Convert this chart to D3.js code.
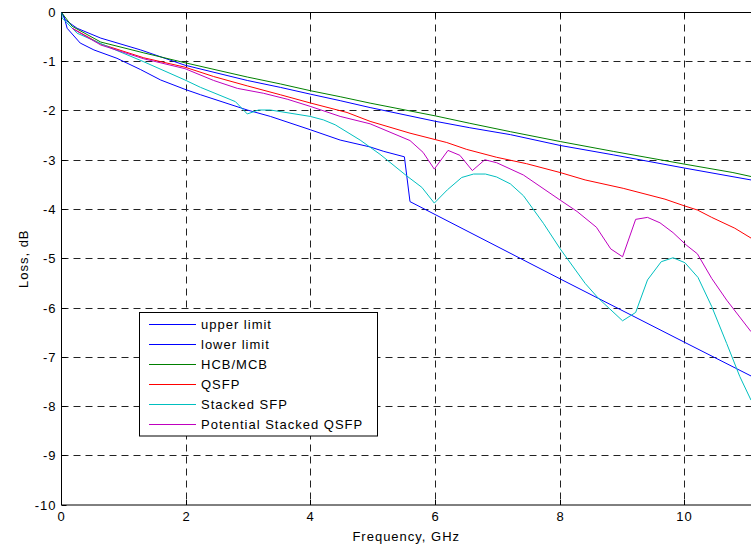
<!DOCTYPE html>
<html>
<head>
<meta charset="utf-8">
<script src="https://cdn.jsdelivr.net/npm/d3@7"></script>
<style>
  html, body { margin: 0; padding: 0; background: #fff; }
  svg { display: block; }
  text { font-family: Arial, "Liberation Sans", sans-serif; font-size: 13px; letter-spacing: 1px; fill: #000; }
</style>
</head>
<body>
<svg id="chart" width="751" height="544"></svg>
<script>
// ---------- data ----------
const xTicks = [0, 2, 4, 6, 8, 10];
const yTicks = [0, -1, -2, -3, -4, -5, -6, -7, -8, -9, -10];

const upperFreq = [0, 0.06, 0.25, 0.63, 1.27, 1.98, 2.98, 3.51, 4.0, 4.47, 4.95, 6.0, 6.55, 7.2, 8.0, 8.85, 10.0, 11.06];
const upperLoss = [0, -0.15, -0.32, -0.52, -0.76, -1.07, -1.38, -1.52, -1.66, -1.79, -1.93, -2.21, -2.34, -2.48, -2.70, -2.89, -3.16, -3.40];

const lowerFreq = [0, 0.04, 0.09, 0.3, 0.52, 0.89, 1.27, 1.59, 1.98, 2.23, 2.98, 3.35, 3.99, 4.47, 4.95, 5.17, 5.5, 5.59, 8.0, 10.0, 11.06];
const lowerLoss = [0, -0.08, -0.32, -0.62, -0.76, -0.93, -1.16, -1.37, -1.56, -1.67, -1.98, -2.11, -2.38, -2.59, -2.73, -2.82, -2.93, -3.84, -5.41, -6.70, -7.38];

const hcbFreq = [0, 0.17, 0.63, 1.32, 1.98, 2.98, 3.51, 4.0, 4.47, 4.95, 6.0, 6.55, 7.2, 8.0, 8.85, 9.6, 10.0, 10.77, 11.06];
const hcbLoss = [0, -0.28, -0.60, -0.82, -1.02, -1.31, -1.45, -1.59, -1.71, -1.84, -2.10, -2.25, -2.42, -2.62, -2.82, -2.99, -3.08, -3.25, -3.33];

const qsfpFreq = [0.17, 0.63, 1.32, 1.98, 2.44, 2.98, 3.51, 4.0, 4.58, 4.95, 5.59, 6.18, 6.5, 6.98, 7.46, 8.0, 8.4, 9.01, 9.68, 10.0, 10.2, 10.43, 10.8, 11.06];
const qsfpLoss = [-0.32, -0.64, -0.92, -1.11, -1.30, -1.49, -1.67, -1.84, -2.03, -2.21, -2.45, -2.64, -2.78, -2.94, -3.07, -3.25, -3.40, -3.57, -3.79, -3.93, -4.01, -4.16, -4.38, -4.58];

const sfpFreq = [0, 0.01, 0.25, 0.79, 1.32, 1.98, 2.23, 2.79, 2.98, 3.16, 3.35, 3.99, 4.2, 4.39, 4.79, 5.11, 5.54, 5.78, 5.98, 6.19, 6.42, 6.61, 6.8, 6.98, 7.2, 7.41, 7.73, 8.0, 8.4, 8.61, 9.0, 9.21, 9.4, 9.62, 9.81, 10.0, 10.21, 10.43, 10.67, 10.88, 11.06];
const sfpLoss = [0, -0.11, -0.42, -0.72, -1.0, -1.37, -1.52, -1.81, -2.06, -1.98, -1.98, -2.11, -2.18, -2.28, -2.59, -2.88, -3.32, -3.55, -3.87, -3.60, -3.35, -3.28, -3.28, -3.34, -3.48, -3.72, -4.28, -4.80, -5.50, -5.80, -6.26, -6.09, -5.43, -5.06, -4.98, -5.08, -5.38, -5.97, -6.72, -7.39, -7.87];

const pqsfpFreq = [0.17, 0.63, 1.32, 1.98, 2.44, 2.82, 3.24, 3.62, 4.0, 4.47, 4.95, 5.59, 5.80, 5.98, 6.2, 6.39, 6.59, 6.79, 6.98, 7.41, 8.0, 8.27, 8.58, 8.81, 9.0, 9.21, 9.4, 9.6, 9.81, 10.02, 10.2, 10.43, 10.67, 11.06];
const pqsfpLoss = [-0.32, -0.66, -0.94, -1.14, -1.38, -1.54, -1.64, -1.76, -1.91, -2.11, -2.26, -2.60, -2.84, -3.18, -2.80, -2.90, -3.21, -2.99, -3.05, -3.30, -3.81, -4.04, -4.36, -4.80, -4.96, -4.20, -4.16, -4.27, -4.47, -4.72, -4.90, -5.40, -5.84, -6.48];

const seriesNames = ["upper limit", "lower limit", "HCB/MCB", "QSFP", "Stacked SFP", "Potential Stacked QSFP"];
const seriesColors = ["#0000ff", "#0000ff", "#008000", "#ff0000", "#00bfbf", "#bf00bf"];
const seriesFreq = [upperFreq, lowerFreq, hcbFreq, qsfpFreq, sfpFreq, pqsfpFreq];
const seriesLoss = [upperLoss, lowerLoss, hcbLoss, qsfpLoss, sfpLoss, pqsfpLoss];

const xLabel = "Frequency, GHz";
const yLabel = "Loss, dB";

// ---------- layout ----------
const svg = d3.select("#chart");
const pL = 61.5, pR = 751, pT = 12.5, pB = 505;
const x = d3.scaleLinear().domain([0, 11.06]).range([pL, pR]);
const y = d3.scaleLinear().domain([-10, 0]).range([pB, pT]);
const snap = v => Math.round(v - 0.5) + 0.5;

svg.append("rect").attr("width", 751).attr("height", 544).attr("fill", "#fff");

svg.append("defs").append("clipPath").attr("id", "clip")
  .append("rect").attr("x", pL).attr("y", pT).attr("width", pR - pL + 2).attr("height", pB - pT);

// grid
const grid = svg.append("g").attr("stroke", "#222").attr("stroke-width", 1).attr("stroke-dasharray", "7,5").attr("fill", "none");
xTicks.filter(d => d !== 0).forEach(d => {
  grid.append("line").attr("x1", snap(x(d))).attr("x2", snap(x(d))).attr("y1", pT).attr("y2", pB);
});
yTicks.filter(d => d !== 0 && d !== -10).forEach(d => {
  grid.append("line").attr("x1", pL).attr("x2", pR).attr("y1", snap(y(d))).attr("y2", snap(y(d)));
});

// axes
const xAxis = d3.axisBottom(x).tickValues(xTicks).tickSize(-5).tickPadding(7).tickFormat(d => String(d));
const yAxis = d3.axisLeft(y).tickValues(yTicks).tickSize(-5).tickPadding(6).tickFormat(d => String(d));
const gx = svg.append("g").attr("transform", `translate(0,${pB})`).call(xAxis);
const gy = svg.append("g").attr("transform", `translate(${pL},0)`).call(yAxis);
[gx, gy].forEach(g => {
  g.select(".domain").remove();
  g.selectAll("line").attr("stroke", "#000");
  g.selectAll("text").attr("font-family", null).attr("font-size", null).style("font-size", "13px").style("fill", "#000");
});
gx.selectAll(".tick").attr("transform", d => `translate(${snap(x(d))},0)`);
gy.selectAll(".tick").attr("transform", d => `translate(0,${snap(y(d))})`);
gy.selectAll("text").attr("dx", "1px");
// top ticks
xTicks.forEach(d => {
  svg.append("line").attr("x1", snap(x(d))).attr("x2", snap(x(d))).attr("y1", pT).attr("y2", pT + 5).attr("stroke", "#000");
});
// frame
svg.append("line").attr("x1", pL).attr("x2", pR).attr("y1", pT).attr("y2", pT).attr("stroke", "#000");
svg.append("line").attr("x1", pL).attr("x2", pR).attr("y1", pB).attr("y2", pB).attr("stroke", "#000");
svg.append("line").attr("x1", pL).attr("x2", pL).attr("y1", pT).attr("y2", pB).attr("stroke", "#000");

// axis titles
svg.append("text").attr("x", (pL + pR) / 2).attr("y", 541).attr("text-anchor", "middle").text(xLabel);
svg.append("text").attr("transform", `translate(28,${(pT + pB) / 2}) rotate(-90)`).attr("text-anchor", "middle").text(yLabel);

// series
const line = d3.line().x(d => x(d[0])).y(d => y(d[1]));
const plot = svg.append("g").attr("clip-path", "url(#clip)");
seriesNames.forEach((name, i) => {
  const pts = seriesFreq[i].map((f, j) => [f, seriesLoss[i][j]]);
  plot.append("path").datum(pts).attr("d", line)
    .attr("fill", "none").attr("stroke", seriesColors[i]).attr("stroke-width", 1);
});

// legend
const lg = svg.append("g");
lg.append("rect").attr("x", 139.5).attr("y", 312.5).attr("width", 238).attr("height", 123.5)
  .attr("fill", "#fff").attr("stroke", "#000").attr("stroke-width", 1);
seriesNames.forEach((name, i) => {
  const ry = 324.5 + i * 20;
  lg.append("line").attr("x1", 149).attr("x2", 196).attr("y1", ry).attr("y2", ry)
    .attr("stroke", seriesColors[i]).attr("stroke-width", 1);
  lg.append("text").attr("x", 201).attr("y", ry + 4.5).text(name);
});
</script>
</body>
</html>
